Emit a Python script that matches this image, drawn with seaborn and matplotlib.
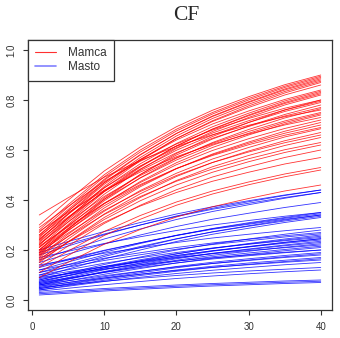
import numpy as np
import pandas as pd
import matplotlib
matplotlib.use("Agg")
import matplotlib.pyplot as plt
import seaborn as sns
from matplotlib.lines import Line2D

x_vals = [1, 5, 10, 15, 20, 25, 30, 35, 40]

mamca = [
    [.30, .399, .516, .612, .693, .759, .813, .861, .90],
    [.28, .381, .501, .600, .683, .750, .806, .855, .895],
    [.27, .372, .493, .592, .676, .744, .800, .850, .89],
    [.25, .355, .479, .580, .666, .736, .793, .844, .885],
    [.26, .362, .483, .582, .666, .734, .790, .840, .88],
    [.24, .345, .469, .570, .656, .726, .783, .834, .875],
    [.22, .327, .454, .558, .646, .717, .776, .828, .87],
    [.34, .409, .491, .558, .615, .661, .699, .733, .76],
    [.23, .330, .448, .545, .626, .693, .747, .796, .835],
    [.21, .312, .433, .532, .616, .684, .740, .790, .83],
    [.22, .320, .438, .535, .616, .683, .737, .786, .825],
    [.20, .302, .423, .522, .606, .674, .730, .780, .82],
    [.29, .374, .474, .555, .624, .680, .726, .767, .80],
    [.255, .344, .449, .536, .609, .668, .717, .760, .795],
    [.235, .327, .435, .524, .599, .660, .710, .754, .79],
    [.20, .296, .409, .502, .580, .644, .696, .742, .78],
    [.245, .332, .434, .518, .589, .647, .694, .736, .77],
    [.19, .285, .397, .489, .567, .630, .682, .728, .765],
    [.225, .312, .414, .498, .569, .627, .674, .716, .75],
    [.21, .298, .403, .488, .560, .619, .667, .710, .745],
    [.185, .277, .385, .474, .549, .610, .660, .704, .74],
    [.275, .350, .439, .512, .573, .623, .664, .700, .73],
    [.20, .286, .387, .470, .541, .598, .645, .686, .72],
    [.175, .263, .368, .453, .525, .584, .632, .675, .71],
    [.195, .278, .377, .458, .526, .581, .627, .667, .70],
    [.215, .293, .386, .462, .526, .578, .621, .659, .69],
    [.17, .255, .355, .438, .507, .564, .610, .652, .685],
    [.16, .244, .344, .425, .494, .550, .596, .637, .67],
    [.19, .268, .359, .434, .498, .550, .592, .629, .66],
    [.15, .233, .330, .410, .478, .533, .578, .618, .65],
    [.18, .254, .342, .414, .475, .524, .565, .601, .63],
    [.155, .232, .322, .397, .460, .511, .553, .590, .62],
    [.14, .216, .306, .379, .441, .492, .533, .570, .60],
    [.165, .232, .311, .376, .430, .475, .511, .544, .57],
    [.13, .196, .274, .338, .392, .436, .472, .504, .53],
    [.11, .178, .258, .323, .379, .424, .461, .493, .52],
    [.09, .151, .223, .282, .332, .373, .406, .436, .46],
    [.24, .342, .463, .562, .646, .714, .770, .820, .86],
    [.26, .356, .469, .562, .640, .704, .756, .802, .84],
    [.18, .282, .403, .502, .586, .654, .710, .760, .80],
]

masto = [
    [.20, .234, .274, .310, .344, .373, .397, .420, .44],
    [.18, .216, .261, .300, .336, .367, .393, .418, .44],
    [.19, .224, .264, .300, .334, .363, .387, .410, .43],
    [.16, .198, .244, .284, .322, .354, .381, .407, .43],
    [.15, .184, .224, .260, .294, .323, .347, .370, .39],
    [.12, .152, .191, .226, .258, .286, .309, .330, .35],
    [.13, .160, .197, .229, .259, .285, .306, .327, .345],
    [.10, .134, .174, .210, .244, .273, .297, .320, .34],
    [.11, .142, .180, .214, .245, .272, .295, .316, .335],
    [.09, .124, .164, .200, .234, .263, .287, .310, .33],
    [.14, .161, .187, .209, .230, .248, .263, .277, .29],
    [.08, .108, .142, .172, .200, .224, .244, .263, .28],
    [.12, .141, .167, .189, .210, .228, .243, .257, .27],
    [.07, .097, .129, .157, .184, .207, .226, .244, .26],
    [.10, .121, .147, .169, .190, .208, .223, .237, .25],
    [.065, .090, .121, .148, .173, .195, .213, .230, .245],
    [.085, .107, .133, .156, .178, .197, .212, .227, .24],
    [.06, .085, .114, .141, .165, .186, .204, .220, .235],
    [.075, .097, .123, .146, .168, .187, .202, .217, .23],
    [.095, .113, .134, .153, .170, .185, .198, .209, .22],
    [.055, .077, .103, .126, .148, .167, .182, .197, .21],
    [.07, .088, .110, .130, .148, .164, .177, .189, .20],
    [.05, .070, .093, .114, .134, .151, .165, .178, .19],
    [.06, .077, .097, .115, .132, .146, .158, .170, .18],
    [.045, .063, .084, .103, .120, .135, .148, .159, .17],
    [.055, .070, .088, .103, .118, .131, .141, .151, .16],
    [.04, .055, .074, .091, .106, .119, .130, .141, .15],
    [.05, .061, .075, .087, .098, .108, .116, .123, .13],
    [.035, .047, .061, .074, .086, .096, .105, .113, .12],
    [.03, .037, .046, .053, .060, .066, .071, .076, .08],
    [.025, .032, .041, .048, .055, .061, .066, .071, .075],
    [.02, .027, .036, .043, .050, .056, .061, .066, .07],
    [.08, .105, .134, .161, .185, .206, .224, .240, .255],
    [.065, .086, .112, .134, .155, .173, .188, .202, .215],
    [.11, .132, .158, .181, .203, .222, .237, .252, .265],
    [.045, .065, .088, .109, .129, .146, .160, .173, .185],
    [.06, .083, .111, .136, .159, .179, .195, .211, .225],
    [.075, .099, .128, .153, .177, .197, .214, .231, .245],
    [.04, .058, .079, .098, .115, .130, .143, .154, .165],
    [.09, .105, .124, .141, .156, .169, .180, .191, .20],
    [.17, .195, .226, .253, .278, .300, .318, .335, .35],
    [.135, .164, .199, .229, .258, .283, .303, .323, .34],
]

x_ticks = [0, 10, 20, 30, 40]
y_ticks = [0.0, 0.2, 0.4, 0.6, 0.8, 1.0]
series_names = ["Mamca", "Masto"]
title = "CF"

rows = []
for name, lines in (("Masto", masto), ("Mamca", mamca)):
    for i, ys in enumerate(lines):
        for xv, yv in zip(x_vals, ys):
            rows.append({"x": xv, "y": yv, "group": name, "id": f"{name}{i}"})
df = pd.DataFrame(rows)

sns.set_style("white")
plt.rcParams["font.family"] = ["Liberation Sans", "DejaVu Sans"]

fig = plt.figure(figsize=(3.40, 3.38), dpi=100)
ax = fig.add_axes([28/340, 1 - 310/338, (332-28)/340, (310-40)/338])

palette = {"Mamca": "#ff0000", "Masto": "#0000ff"}
for name in ["Masto", "Mamca"]:
    sub = df[df["group"] == name]
    sns.lineplot(data=sub, x="x", y="y", units="id", estimator=None,
                 color=palette[name], lw=0.6, alpha=0.8, ax=ax, legend=False)

ax.set_xlim(-0.56, 41.56)
ax.set_ylim(-0.04, 1.04)
ax.set_xticks(x_ticks)
ax.set_yticks(y_ticks)
ax.set_xticklabels([str(t) for t in x_ticks], fontsize=7, color="#333333")
ax.set_yticklabels([f"{t:.1f}" for t in y_ticks], fontsize=7, rotation=90,
                   va="center", color="#333333")
ax.tick_params(axis="both", direction="out", length=3.6, width=0.8,
               color="#333333", bottom=True, left=True)
ax.tick_params(axis="x", pad=5)
ax.tick_params(axis="y", pad=4.5)
ax.set_xlabel("")
ax.set_ylabel("")
for s in ax.spines.values():
    s.set_color("#333333")
    s.set_linewidth(0.9)

handles = [Line2D([0], [0], color="#ff3030", lw=0.8),
           Line2D([0], [0], color="#8080ff", lw=1.2)]
leg = ax.legend(handles, series_names, loc="upper left", bbox_to_anchor=(0, 1),
                borderaxespad=0, fancybox=False, fontsize=8.5,
                handlelength=1.8, handletextpad=1.0, borderpad=0.6,
                labelspacing=0.2, framealpha=1)
leg.get_frame().set_edgecolor("#333333")
leg.get_frame().set_linewidth(0.9)
for t in leg.get_texts():
    t.set_color("#333333")

fig.text(186/340, 1 - 16/338, title, ha="center", va="center",
         fontsize=15.5, family=["Liberation Serif", "DejaVu Serif"])

fig.savefig("out.png", dpi=100)
